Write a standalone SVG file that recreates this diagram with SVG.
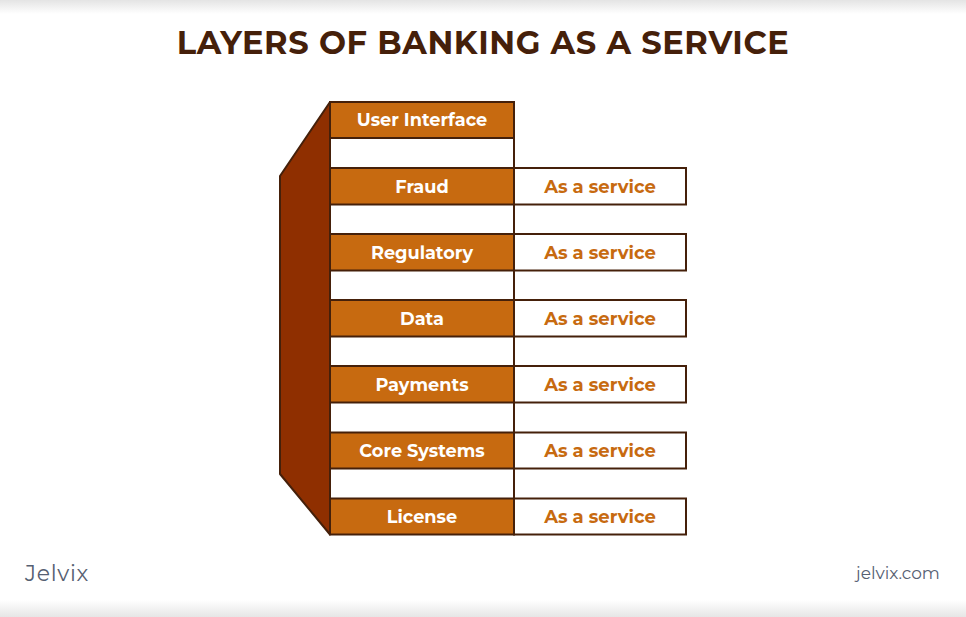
<svg xmlns="http://www.w3.org/2000/svg" width="966" height="617" viewBox="0 0 966 617">
<defs>
<linearGradient id="top" x1="0" y1="0" x2="0" y2="1"><stop offset="0" stop-color="#e4e4e4"/><stop offset="1" stop-color="#ffffff"/></linearGradient>
<linearGradient id="bot" x1="0" y1="0" x2="0" y2="1"><stop offset="0" stop-color="#ffffff"/><stop offset="1" stop-color="#e6e6e6"/></linearGradient>
</defs>
<style>
text{font-family:"Montserrat","Inter","Noto Sans",sans-serif;text-anchor:middle}
.s{stroke:#45200a;stroke-width:2;fill:none}
.l{fill:#c76a10;stroke:#45200a;stroke-width:2}
.r{fill:#fff;stroke:#45200a;stroke-width:2}
.lt{fill:#fff;font-size:17.7px;font-weight:700}
.rt{fill:#c76a10;font-size:18px;font-weight:700}
</style>
<rect width="966" height="617" fill="#fff"/>
<rect width="966" height="14" fill="url(#top)"/>
<rect y="600" width="966" height="17" fill="url(#bot)"/>
<text id="title" x="483" y="53.5" font-size="32" font-weight="700" letter-spacing="0.6" fill="#45200a">LAYERS OF BANKING AS A SERVICE</text>
<g id="connectors">
<path class="s" d="M514 138V168M514 204.500V234M514 270.500V300M514 336.500V366M514 402.500V432M514 468.500V498"/>
</g>
<g id="side"><path d="M330 102L280 176V474L330 534.500Z" fill="#8f2f00" stroke="#45200a" stroke-width="2" stroke-linejoin="round"/></g>
<g id="n-ui"><rect class="l" x="330" y="102" width="184" height="36"/><text class="lt" x="422" y="126">User Interface</text></g>
<g id="n-fraud"><rect class="l" x="330" y="168" width="184" height="36.500"/><text class="lt" x="422" y="192.500">Fraud</text></g>
<g id="n-fraud-s"><rect class="r" x="514" y="168" width="172" height="36.500"/><text class="rt" x="600" y="192.500">As a service</text></g>
<g id="n-reg"><rect class="l" x="330" y="234" width="184" height="36.500"/><text class="lt" x="422" y="258.500">Regulatory</text></g>
<g id="n-reg-s"><rect class="r" x="514" y="234" width="172" height="36.500"/><text class="rt" x="600" y="258.500">As a service</text></g>
<g id="n-data"><rect class="l" x="330" y="300" width="184" height="36.500"/><text class="lt" x="422" y="324.500">Data</text></g>
<g id="n-data-s"><rect class="r" x="514" y="300" width="172" height="36.500"/><text class="rt" x="600" y="324.500">As a service</text></g>
<g id="n-pay"><rect class="l" x="330" y="366" width="184" height="36.500"/><text class="lt" x="422" y="390.500">Payments</text></g>
<g id="n-pay-s"><rect class="r" x="514" y="366" width="172" height="36.500"/><text class="rt" x="600" y="390.500">As a service</text></g>
<g id="n-core"><rect class="l" x="330" y="432.500" width="184" height="36"/><text class="lt" x="422" y="457">Core Systems</text></g>
<g id="n-core-s"><rect class="r" x="514" y="432.500" width="172" height="36"/><text class="rt" x="600" y="457">As a service</text></g>
<g id="n-lic"><rect class="l" x="330" y="498.500" width="184" height="36"/><text class="lt" x="422" y="523">License</text></g>
<g id="n-lic-s"><rect class="r" x="514" y="498.500" width="172" height="36"/><text class="rt" x="600" y="523">As a service</text></g>
<text id="logo" x="57" y="581" font-size="22" letter-spacing="0.7" fill="#566072" style="font-weight:400">Jelvix</text>
<text id="site" x="898" y="579" font-size="17" fill="#566072" style="font-weight:400">jelvix.com</text>
</svg>
